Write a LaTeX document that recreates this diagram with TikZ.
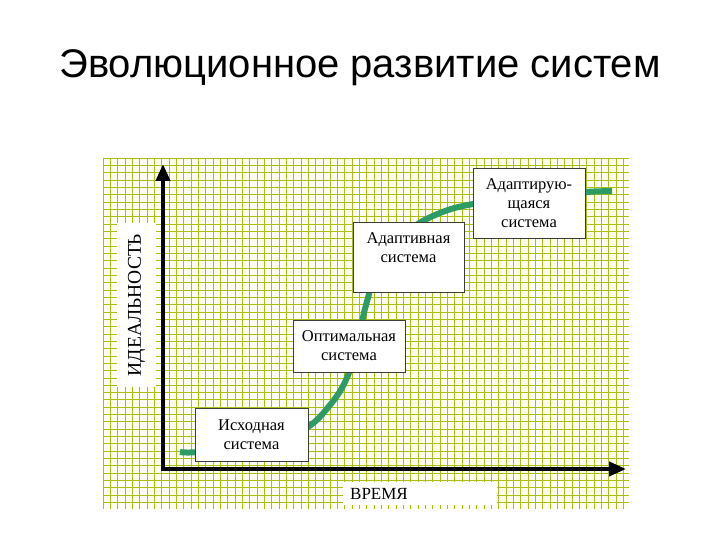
\documentclass[tikz,border=0pt]{standalone}
\usepackage{fontspec}
\setmainfont{Liberation Serif}
\newfontfamily\titlefont{Liberation Sans}
\usetikzlibrary{arrows.meta, positioning}
\definecolor{gridGreen}{RGB}{170,190,20}
\definecolor{paperTint}{RGB}{253,253,240}
\definecolor{curveGreen}{RGB}{45,155,100}
\definecolor{boxGray}{RGB}{60,60,60}

\begin{document}
\begin{tikzpicture}[
    x=1pt, y=-1pt,
    stage/.style={rectangle, draw=boxGray, line width=0.8pt, fill=white, align=center, font=\fontsize{16.5}{19}\selectfont},
    axislabel/.style={rectangle, fill=white, inner sep=0pt},
    axis/.style={{Triangle[length=17pt, width=14pt]}-{Triangle[length=17pt, width=14pt]}, line width=4pt, line join=miter},
    growth/.style={curveGreen, line width=6pt}
]

\useasboundingbox (0,0) rectangle (720,540);

% title
\node[font=\titlefont\fontsize{40}{48}\selectfont] (title) at (360,68) {Эволюционное развитие систем};

% squared paper
\fill[paperTint] (103,158) rectangle (629,509);
\foreach \i in {0,...,71}
  \draw[gridGreen, line width=0.8pt] (103+\i*7.33,158) -- (103+\i*7.33,509);
\foreach \j in {0,...,47}
  \draw[gridGreen, line width=0.8pt] (103,158+\j*7.33) -- (629,158+\j*7.33);

% axis labels
\node[axislabel, rotate=90, minimum width=163pt, minimum height=39pt, font=\fontsize{19.5}{22}\selectfont] (ideal) at (136.5,305) {ИДЕАЛЬНОСТЬ};
\node[axislabel, anchor=north west, text width=140pt, minimum height=23pt, inner xsep=7pt, align=left, font=\fontsize{17}{20}\selectfont] (time) at (343,482) {ВРЕМЯ};

% axes
\coordinate (origin) at (163,469);
\coordinate (ytip) at (163,164);
\coordinate (xtip) at (626,469);
\draw[axis] (ytip) -- (origin) -- (xtip);

% growth curve
\draw[growth] plot[smooth, tension=0.6] coordinates {(180,452) (200,452) (270,445) (308,427) (330,405) (345,382) (356,350) (366,305) (380,265) (410,230) (440,213) (473,204) (530,196) (585,192) (612,191)};

% stages
\node[stage, minimum width=113pt, minimum height=53pt] (initial) at (251.5,434.5) {Исходная\\система};
\node[stage, minimum width=112pt, minimum height=52pt] (optimal) at (349,346) {Оптимальная\\система};
\node[stage, minimum width=111pt, minimum height=70pt] (adaptive) at (408.5,257) {};
\node[below=7pt of adaptive.north, align=center, font=\fontsize{16.5}{19}\selectfont] (adaptivetxt) {Адаптивная\\система};
\node[stage, minimum width=112pt, minimum height=70pt] (adapting) at (529,203) {Адаптирую-\\щаяся\\система};

\end{tikzpicture}
\end{document}
